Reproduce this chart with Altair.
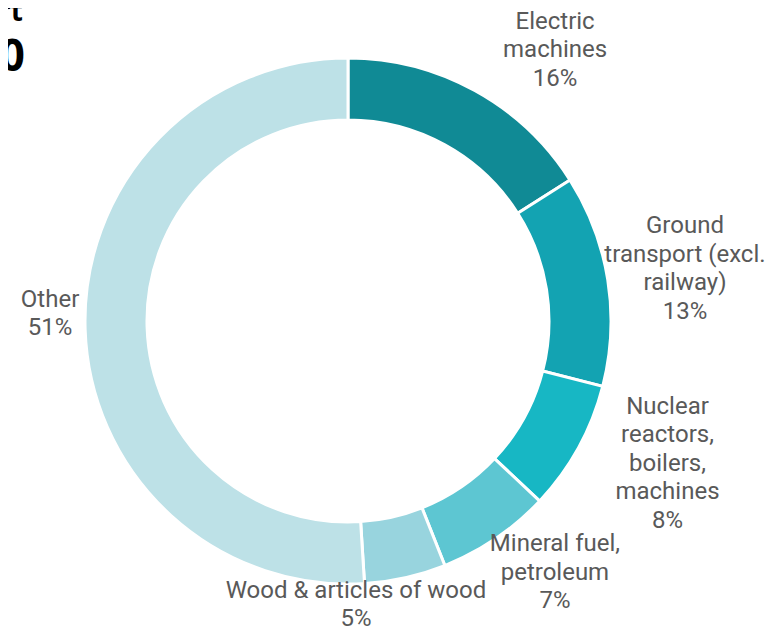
import altair as alt
import pandas as pd

# ---- data ----
categories = [
    "Electric machines",
    "Ground transport (excl. railway)",
    "Nuclear reactors, boilers, machines",
    "Mineral fuel, petroleum",
    "Wood & articles of wood",
    "Other",
]
shares = [16, 13, 8, 7, 5, 51]
label_text = [
    "Electric\nmachines",
    "Ground\ntransport (excl.\nrailway)",
    "Nuclear\nreactors,\nboilers,\nmachines",
    "Mineral fuel,\npetroleum",
    "Wood & articles of wood",
    "Other",
]
title_lines = ["Export", "2020"]

# ---- style / layout ----
colors = ["#108a95", "#13a3b2", "#17b7c4", "#5dc6d2", "#98d4de", "#bde1e7"]
# angular nudge (deg) from the slice middle and distance (px) of each label block from the centre
label_nudge = [8.6, 0.2, -4.7, -5.2, 11.0, 3.1]
label_dist = [341, 341, 350, 326, 284, 298]
LINE_H = 28.5
CX, CY = 340, 313
W, H = 758, 619

full_labels = [f"{t}\n{s}%" for t, s in zip(label_text, shares)]
df = pd.DataFrame({
    "idx": list(range(len(categories))),
    "category": categories,
    "share": shares,
    "label": full_labels,
    "nlines": [lab.count("\n") + 1 for lab in full_labels],
    "nudge": label_nudge,
    "dist": label_dist,
})

base = alt.Chart(df)

arcs = base.mark_arc(radius=263, innerRadius=201, stroke="white", strokeWidth=3).encode(
    theta=alt.Theta("share:Q", stack=True),
    order=alt.Order("idx:Q"),
    color=alt.Color("category:N", scale=alt.Scale(domain=categories, range=colors), legend=None),
    x=alt.value(CX),
    y=alt.value(CY),
)

labels = (
    base.transform_window(cum="sum(share)", sort=[alt.SortField("idx")], frame=[None, 0])
    .transform_calculate(ang="(datum.cum - datum.share/2)/100*2*PI + datum.nudge*PI/180")
    .transform_calculate(
        lx=f"{CX} + datum.dist*sin(datum.ang)",
        ly=f"{CY} - datum.dist*cos(datum.ang) - (datum.nlines - 1)*{LINE_H}/2",
    )
    .mark_text(
        font="Roboto", fontSize=24, color="#595959", lineBreak="\n", lineHeight=LINE_H,
        align="center", baseline="middle",
    )
    .encode(
        x=alt.X("lx:Q", scale=None, axis=None),
        y=alt.Y("ly:Q", scale=None, axis=None),
        text="label:N",
    )
)

title1 = alt.Chart(pd.DataFrame({"t": [title_lines[0]]})).mark_text(
    font="Open Sans", fontSize=28, fontWeight="bold", color="#000000",
    align="right", baseline="alphabetic",
).encode(x=alt.value(15), y=alt.value(13), text="t:N")

title2 = alt.Chart(pd.DataFrame({"t": [title_lines[1]]})).mark_text(
    font="Open Sans", fontSize=44, fontWeight="bold", color="#000000",
    align="right", baseline="alphabetic",
).encode(x=alt.value(17), y=alt.value(63), text="t:N")

chart = (
    alt.layer(arcs, labels, title1, title2)
    .properties(width=W, height=H, padding=0, autosize=alt.AutoSizeParams(type="none"))
    .configure_view(stroke=None)
)

chart.save("out.html", embed_options={"renderer": "svg", "actions": False})
